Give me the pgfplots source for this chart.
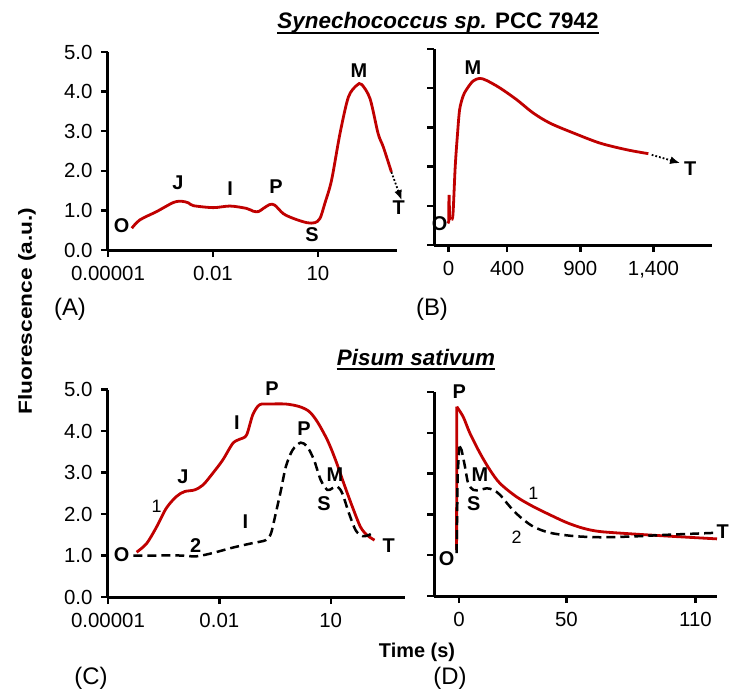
\documentclass[border=0pt]{standalone}
\usepackage{fontspec}
\setmainfont{Liberation Sans}
\usepackage{pgfplots}
\pgfplotsset{compat=1.18}
\usetikzlibrary{arrows.meta}
\definecolor{cred}{RGB}{192,0,0}
\tikzset{
 lab/.style={font=\fontsize{20}{20}\selectfont\bfseries},
 num/.style={font=\fontsize{18}{18}\selectfont},
 cur1/.style={cred, line width=2.8bp},
 cur2/.style={black, line width=2.5bp, dash pattern=on 9bp off 5bp},
 arr/.style={black, line width=1.8bp, dotted, -{Latex[length=10bp,width=8bp]}},
}
\pgfplotsset{
 panel/.style={
  scale only axis, anchor=south west,
  axis lines=left,
  axis line style={-, line width=3bp, black},
  tick style={line width=2.4bp, black},
  tick align=outside,
  major tick length=7bp,
  ymin=0, ymax=5,
  ytick={0,1,2,3,4,5},
  clip=false,
  tick label style={font=\fontsize{20.5}{21}\selectfont},
  yticklabel style={xshift=-5bp},
  xticklabel style={yshift=-6bp},
 },
}
\begin{document}
\begin{tikzpicture}
\useasboundingbox (0,0) rectangle (730bp,-692bp);
% Panel A
\begin{axis}[panel, at={(108bp,-250bp)}, width=289bp, height=198bp,
  xmode=log, xmin=1e-5, xmax=1820, xminorticks=false,
  xtick={1e-5,1e-2,1e1}, xticklabels={0.00001,0.01,10},
  yticklabels={0.0,1.0,2.0,3.0,4.0,5.0}]
\addplot[cur1, smooth] coordinates {
(4.79e-5,0.55) (8.13e-5,0.76) (2.45e-4,0.97) (7.41e-4,1.20) (1.29e-3,1.23)
(2.0e-3,1.19) (2.75e-3,1.12) (1.02e-2,1.07) (3.09e-2,1.11) (9.12e-2,1.05)
(0.141,0.98) (0.2,0.97) (0.275,1.05) (0.427,1.15) (0.589,1.13) (1.02,0.92)
(1.95,0.80) (4.79,0.69) (8.13,0.69) (11.5,0.80) (15.8,1.18) (24.5,1.76)
(42.7,2.94) (74.1,3.86) (129,4.16) (178,4.18) (309,3.82) (525,2.94)
(741,2.60) (1259,1.97)};
\addplot[arr] coordinates {(1259,1.97) (2455,1.26)};
\node[lab] at (axis cs:2.45e-5,0.62) {O};
\node[lab] at (axis cs:1e-3,1.69) {J};
\node[lab] at (axis cs:0.031,1.54) {I};
\node[lab] at (axis cs:0.63,1.59) {P};
\node[lab] at (axis cs:6.8,0.38) {S};
\node[lab] at (axis cs:148,4.53) {M};
\node[lab] at (axis cs:2040,1.06) {T};
\end{axis}
% Panel B
\begin{axis}[panel, at={(434bp,-245bp)}, width=278bp, height=196bp,
  xmin=-100, xmax=1800,
  xtick={0,400,900,1400}, xticklabels={0,400,900,{1,400}},
  yticklabels={}]
\addplot[cur1] coordinates {(-5,0.55) (1,0.60) (2,1.24) (4,1.24) (6,0.70) (20,0.66)};
\addplot[cur1, smooth] coordinates {
(20,0.66) (30,0.80) (45,2.0) (60,2.8) (75,3.45) (98,3.79) (121,3.96)
(166,4.18) (212,4.25) (258,4.20) (349,4.01) (464,3.71) (577,3.37)
(692,3.11) (851,2.86) (1034,2.60) (1217,2.43) (1365,2.33)};
\addplot[arr] coordinates {(1388,2.30) (1582,2.09)};
\node[lab] at (axis cs:-62,0.54) {O};
\node[lab] at (axis cs:166,4.52) {M};
\node[lab] at (axis cs:1651,1.96) {T};
\end{axis}
% Panel C
\begin{axis}[panel, at={(108bp,-597bp)}, width=297bp, height=207.5bp,
  xmode=log, xmin=1e-5, xmax=1e3, xminorticks=false,
  xtick={1e-5,1e-2,1e1}, xticklabels={0.00001,0.01,10},
  yticklabels={0.0,1.0,2.0,3.0,4.0,5.0}]
\addplot[cur1, smooth] coordinates {
(5.89e-5,1.08) (1.10e-4,1.29) (2.04e-4,1.69) (3.72e-4,2.14) (6.92e-4,2.42)
(1.15e-3,2.54) (2.14e-3,2.58) (3.63e-3,2.70) (6.61e-3,2.98) (1.23e-2,3.30)
(2.29e-2,3.70) (3.47e-2,3.80) (5.37e-2,3.90) (7.94e-2,4.39) (0.120,4.63)
(0.219,4.65) (0.617,4.65) (1.41,4.59) (2.63,4.47) (4.37,4.22) (8.13,3.78)
(13.5,3.30) (22.4,2.74) (38.0,2.18) (63.1,1.69) (95.5,1.49) (151,1.37)};
\addplot[cur2, smooth] coordinates {
(4.79e-5,1.0) (2.04e-4,1.0) (8.51e-4,1.0) (2.40e-3,0.98) (6.61e-3,1.06)
(2.29e-2,1.19) (7.94e-2,1.30) (0.178,1.37) (0.245,1.53) (0.331,2.02)
(0.457,2.58) (0.617,3.14) (0.933,3.54) (1.55,3.72) (2.34,3.62) (3.55,3.30)
(5.37,2.82) (8.13,2.58) (11.0,2.62) (15.1,2.66) (20.4,2.50) (30.9,2.02)
(46.8,1.61) (70.8,1.47) (105,1.49) (145,1.57)};
\node[lab] at (axis cs:2.34e-5,1.03) {O};
\node[num] at (axis cs:2.04e-4,2.18) {1};
\node[lab] at (axis cs:1.05e-3,2.90) {J};
\node[lab] at (axis cs:2.95e-2,4.19) {I};
\node[lab] at (axis cs:0.263,5.03) {P};
\node[lab] at (axis cs:1.91,4.06) {P};
\node[lab] at (axis cs:12.9,2.94) {M};
\node[lab] at (axis cs:6.61,2.26) {S};
\node[lab] at (axis cs:2.29e-3,1.25) {2};
\node[lab] at (axis cs:5.01e-2,1.81) {I};
\node[lab] at (axis cs:363,1.23) {T};
\end{axis}
% Panel D
\begin{axis}[panel, at={(434bp,-596bp)}, width=283bp, height=204bp,
  xmin=-11.6, xmax=120,
  xtick={0,50,110}, xticklabels={0,50,110},
  yticklabels={}]
\addplot[cur1] coordinates {(-1.1,1.13) (-1.0,4.64)};
\addplot[cur1, smooth] coordinates {
(-1.0,4.64) (2,4.39) (5.1,3.99) (9.8,3.50) (14.4,3.09) (19.1,2.76)
(26.8,2.43) (34.6,2.19) (42.3,1.99) (50.1,1.80) (57.8,1.66) (65.6,1.58)
(81.1,1.52) (96.6,1.47) (120,1.40)};
\addplot[cur2] coordinates {(-1.1,1.05) (-0.6,3.0) (0.2,3.66)};
\addplot[cur2, smooth] coordinates {
(0.2,3.66) (1.2,3.58) (2.8,3.17) (4.3,2.76) (6.7,2.60) (9.8,2.60)
(12.9,2.64) (16,2.60) (19.1,2.48) (23.7,2.19) (28.4,1.94) (34.6,1.70)
(42.3,1.55) (53.2,1.47) (65.6,1.44) (81.1,1.46) (96.6,1.50) (120,1.55)};
\node[lab] at (axis cs:0.2,5.01) {P};
\node[lab] at (axis cs:9.8,2.97) {M};
\node[lab] at (axis cs:6.9,2.27) {S};
\node[lab] at (axis cs:-5.7,0.92) {O};
\node[num] at (axis cs:34.6,2.52) {1};
\node[num] at (axis cs:26.8,1.45) {2};
\node[lab] at (axis cs:122.6,1.58) {T};
\end{axis}
% Titles and labels
\node[inner sep=0, anchor=base, font=\fontsize{22.5}{24}\selectfont] (t1) at (438bp,-28bp)
  {\bfseries\itshape Synechococcus sp.\upshape{} PCC 7942};
\draw[line width=2bp] ([yshift=-4.5bp]t1.base west) -- ([yshift=-4.5bp]t1.base east);
\node[inner sep=0, anchor=base, font=\fontsize{22.5}{24}\selectfont] (t2) at (416bp,-365bp)
  {\bfseries\itshape Pisum sativum};
\draw[line width=2bp] ([yshift=-4bp]t2.base west) -- ([yshift=-4bp]t2.base east);
\node[rotate=90, font=\fontsize{19}{20}\selectfont\bfseries] at (27bp,-311bp)
  {\scalebox{1.2}[1]{Fluorescence (a.u.)}};
\node[font=\fontsize{20}{21}\selectfont\bfseries] at (417bp,-652bp) {Time (s)};
\node[font=\fontsize{24}{25}\selectfont] at (70bp,-309bp) {(A)};
\node[font=\fontsize{24}{25}\selectfont] at (432bp,-309bp) {(B)};
\node[font=\fontsize{24}{25}\selectfont] at (91bp,-678bp) {(C)};
\node[font=\fontsize{24}{25}\selectfont] at (450bp,-678bp) {(D)};
\end{tikzpicture}
\end{document}
